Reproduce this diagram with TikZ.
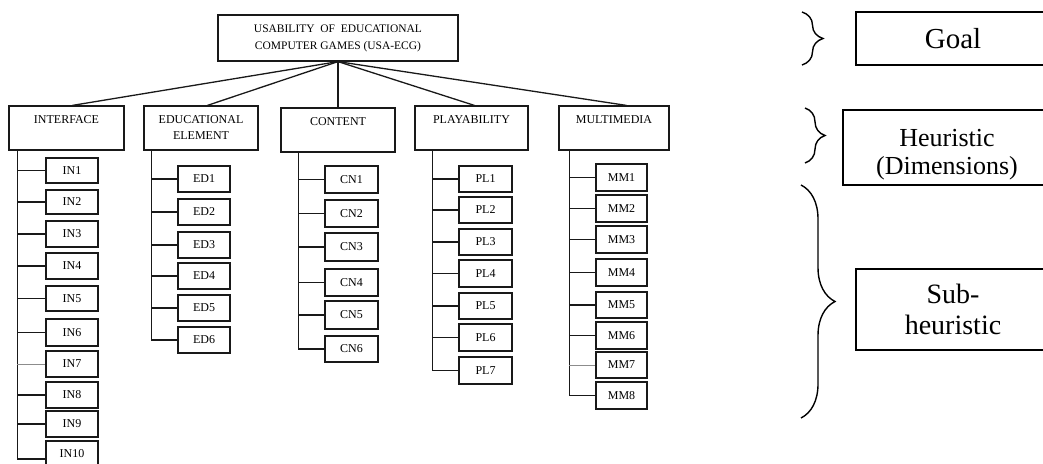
\documentclass[tikz,border=0pt]{standalone}
\usepackage{fontspec}
\setmainfont{Liberation Serif}
\usetikzlibrary{decorations.pathreplacing,calc}
\begin{document}
\begin{tikzpicture}[x=1pt,y=-1pt,
  box/.style={draw=black!90, line width=1.5pt, inner sep=0pt, font=\fontsize{12}{16}\selectfont},
  hdr/.style={box, line width=1.2pt, minimum height=44pt, align=center},
  leaf/.style={box, minimum width=52pt},
  link/.style={draw=black!90, line width=1.3pt},
  faint/.style={draw=black!45, line width=0.7pt},
  bigbox/.style={draw=black, line width=1.4pt, inner sep=0pt},
  curly/.style={draw=black, line width=1.4pt, decorate, decoration={brace, amplitude=#1}}
]
\clip (0,0) rectangle (1043,463);
\fill[white] (0,0) rectangle (1043,463);

% goal
\node[box, line width=1.2pt, minimum width=240pt, minimum height=46pt, align=center, font=\fontsize{11.5}{17}\selectfont] (top) at (338,38)
  {USABILITY\ \ OF\ \ EDUCATIONAL\\COMPUTER GAMES (USA-ECG)};

% heuristics
\node[hdr, minimum width=115pt] (hIN) at (66.5,128) {INTERFACE\\\phantom{I}};
\node[hdr, minimum width=114pt] (hED) at (201,128) {EDUCATIONAL\\ELEMENT};
\node[hdr, minimum width=114pt] (hCN) at (338,130) {CONTENT\\\phantom{I}};
\node[hdr, minimum width=113pt] (hPL) at (471.5,128) {PLAYABILITY\\\phantom{I}};
\node[hdr, minimum width=110pt] (hMM) at (614,128) {MULTIMEDIA\\\phantom{I}};

\draw[link] (top.south) -- ($(hIN.north west)+(64,0)$);
\draw[link] (top.south) -- ($(hED.north west)+(64,0)$);
\draw[link] (top.south) -- (hCN.north);
\draw[link] (top.south) -- ($(hPL.north west)+(60,0)$);
\draw[link] (top.south) -- ($(hMM.north west)+(68,0)$);

% trunk origins
\coordinate (tIN) at ($(hIN.south west)+(9,0)$);
\coordinate (tED) at ($(hED.south west)+(8,0)$);
\coordinate (tCN) at ($(hCN.south west)+(18,0)$);
\coordinate (tPL) at ($(hPL.south west)+(18,0)$);
\coordinate (tMM) at ($(hMM.south west)+(11,0)$);

% sub-heuristics
\foreach \i/\t/\b in {1/158/183,2/190/214,3/221/247,4/253/279,5/286/311,6/319/346,7/351/377,8/382/408,9/411/437,10/441/467}
  \node[leaf, minimum height={\b-\t}] (IN\i) at (72,{(\t+\b)/2}) {IN\i};
\foreach \i/\t/\b in {1/166/192,2/199/225,3/232/258,4/263/289,5/295/321,6/327/353}
  \node[leaf, minimum height={\b-\t}] (ED\i) at (204,{(\t+\b)/2}) {ED\i};
\foreach \i/\t/\b in {1/166/193,2/200/227,3/233/261,4/269/296,5/301/329,6/336/362}
  \node[leaf, minimum width=53pt, minimum height={\b-\t}] (CN\i) at (351.5,{(\t+\b)/2}) {CN\i};
\foreach \i/\t/\b in {1/166/192,2/197/223,3/229/255,4/260/287,5/293/319,6/324/351,7/357/384}
  \node[leaf, minimum width=53pt, minimum height={\b-\t}] (PL\i) at (485.5,{(\t+\b)/2}) {PL\i};
\foreach \i/\t/\b in {1/164/191,2/195/222,3/226/253,4/259/286,5/292/318,6/322/349,7/352/378,8/382/409}
  \node[leaf, minimum width=51pt, minimum height={\b-\t}] (MM\i) at (621.5,{(\t+\b)/2}) {MM\i};

% trunks
\draw[link] (tIN) -- (tIN |- IN10.west) -- ++(0,5);
\draw[link] (tED) -- (tED |- ED6.west);
\draw[link] (tCN) -- (tCN |- CN6.west);
\draw[link] (tPL) -- (tPL |- PL7.west);
\draw[link] (tMM) -- (tMM |- MM8.west);

% branches
\foreach \i in {1,2,3,4,5,6,8,9} \draw[link] (tIN |- IN\i.west) -- (IN\i.west);
\draw[faint] (tIN |- IN7.west) -- (IN7.west);
\draw[link] ($(tIN |- IN10.west)+(0,5)$) -- ($(IN10.west)+(0,5)$);
\foreach \i in {1,...,6} \draw[link] (tED |- ED\i.west) -- (ED\i.west);
\foreach \i in {1,...,6} \draw[link] (tCN |- CN\i.west) -- (CN\i.west);
\foreach \i in {1,...,7} \draw[link] (tPL |- PL\i.west) -- (PL\i.west);
\foreach \i in {1,...,6,8} \draw[link] (tMM |- MM\i.west) -- (MM\i.west);
\draw[faint] (tMM |- MM7.west) -- (MM7.west);

% legend
\node[bigbox, minimum width=194pt, minimum height=53pt, font=\fontsize{29}{31}\selectfont] (lgoal) at (953,38.5) {Goal};
\node[bigbox, minimum width=208pt, minimum height=75pt] (lheur) at (947,147.5) {};
\node[inner sep=0pt, align=center, font=\fontsize{26}{28}\selectfont] (lheurtext) at (947,155) {Heuristic\\(Dimensions)};
\node[bigbox, minimum width=194pt, minimum height=81pt, align=center, font=\fontsize{28}{31}\selectfont] (lsub) at (953,309.5) {Sub-\\heuristic};

\coordinate (bg1) at (802,12);  \coordinate (bg2) at (802,65);
\coordinate (bh1) at (805,108); \coordinate (bh2) at (805,163);
\coordinate (bs1) at (801,185); \coordinate (bs2) at (801,418);
\draw[curly=21pt] (bg1) -- (bg2);
\draw[curly=20pt] (bh1) -- (bh2);
\draw[curly=34pt] (bs1) -- (bs2);
\end{tikzpicture}
\end{document}
